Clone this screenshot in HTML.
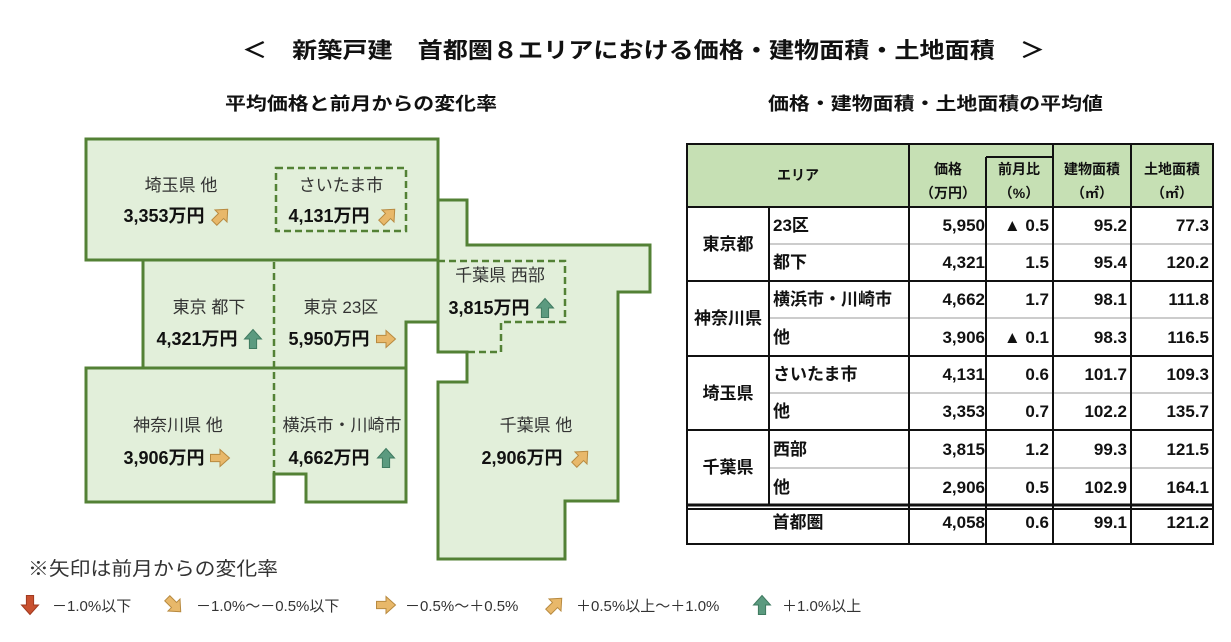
<!DOCTYPE html>
<html><head><meta charset="utf-8"><style>
html,body{margin:0;padding:0;background:#fff;}
svg{display:block;font-family:"Liberation Sans","Noto Sans CJK JP",sans-serif;}
</style></head><body>
<svg width="1231" height="642" viewBox="0 0 1231 642" xmlns="http://www.w3.org/2000/svg">
<defs>
<path id="ar" d="M0,-9.5 L8.5,0 L3.6,0 L3.6,9.5 L-3.6,9.5 L-3.6,0 L-8.5,0 Z"/>
</defs>
<!-- titles -->
<text x="242" y="58" textLength="803" lengthAdjust="spacingAndGlyphs" font-size="22" font-weight="bold" fill="#111">＜　新築戸建　首都圏８エリアにおける価格・建物面積・土地面積　＞</text>
<text x="225" y="110" textLength="272" lengthAdjust="spacingAndGlyphs" font-size="18" font-weight="bold" fill="#111">平均価格と前月からの変化率</text>
<text x="768" y="110" textLength="335" lengthAdjust="spacingAndGlyphs" font-size="18" font-weight="bold" fill="#111">価格・建物面積・土地面積の平均値</text>

<!-- map -->
<g fill="#e2efda" stroke="#538135" stroke-width="3">
<rect x="86" y="139" width="352" height="121"/>
<polygon points="438,200 467,200 467,245 650,245 650,292 618,292 618,501 565,501 565,559 438,559 438,382 467,382 467,352 438,352 438,260"/>
<polygon points="143,260 438,260 438,322 406,322 406,368 143,368"/>
<polygon points="86,368 406,368 406,502 306,502 306,474 274,474 274,502 86,502"/>
</g>
<g fill="none" stroke="#538135" stroke-width="2.5" stroke-dasharray="7,4">
<rect x="276" y="168" width="130" height="63"/>
<polyline points="438,261 565,261 565,322 501,322 501,352 438,352"/>
<line x1="274" y1="262" x2="274" y2="474"/>
</g>
<g font-size="17" fill="#333" text-anchor="middle">
<text x="181" y="191">埼玉県 他</text>
<text x="341" y="191">さいたま市</text>
<text x="209" y="313">東京 都下</text>
<text x="341" y="313">東京 23区</text>
<text x="500" y="281">千葉県 西部</text>
<text x="178" y="431">神奈川県 他</text>
<text x="342" y="431">横浜市・川崎市</text>
<text x="536" y="431">千葉県 他</text>
</g>
<g font-size="18" font-weight="bold" fill="#111" text-anchor="middle">
<text x="164" y="222">3,353万円</text>
<text x="329" y="222">4,131万円</text>
<text x="197" y="345">4,321万円</text>
<text x="329" y="345">5,950万円</text>
<text x="489" y="314">3,815万円</text>
<text x="164" y="464">3,906万円</text>
<text x="329" y="464">4,662万円</text>
<text x="522" y="464">2,906万円</text>
</g>
<g stroke-width="1">
<use href="#ar" transform="translate(221,216) rotate(45)" fill="#e8b86a" stroke="#b88a40"/>
<use href="#ar" transform="translate(388,216) rotate(45)" fill="#e8b86a" stroke="#b88a40"/>
<use href="#ar" transform="translate(253,339)" fill="#5b9a7f" stroke="#3f7a60"/>
<use href="#ar" transform="translate(386,339) rotate(90)" fill="#e8b86a" stroke="#b88a40"/>
<use href="#ar" transform="translate(545,308)" fill="#5b9a7f" stroke="#3f7a60"/>
<use href="#ar" transform="translate(220,458) rotate(90)" fill="#e8b86a" stroke="#b88a40"/>
<use href="#ar" transform="translate(386,458)" fill="#5b9a7f" stroke="#3f7a60"/>
<use href="#ar" transform="translate(581,458) rotate(45)" fill="#e8b86a" stroke="#b88a40"/>
</g>

<!-- legend -->
<text x="28" y="575" textLength="250" lengthAdjust="spacingAndGlyphs" font-size="19" fill="#333">※矢印は前月からの変化率</text>
<g stroke-width="1">
<use href="#ar" transform="translate(30,605) rotate(180)" fill="#c9502f" stroke="#a03a20"/>
<use href="#ar" transform="translate(174,605) rotate(135)" fill="#e8b86a" stroke="#b88a40"/>
<use href="#ar" transform="translate(386,605) rotate(90)" fill="#e8b86a" stroke="#b88a40"/>
<use href="#ar" transform="translate(555,605) rotate(45)" fill="#e8b86a" stroke="#b88a40"/>
<use href="#ar" transform="translate(762,605)" fill="#5b9a7f" stroke="#3f7a60"/>
</g>
<g font-size="15" fill="#333">
<text x="52" y="611">－1.0%以下</text>
<text x="196" y="611">－1.0%～－0.5%以下</text>
<text x="405" y="611">－0.5%～＋0.5%</text>
<text x="576" y="611">＋0.5%以上～＋1.0%</text>
<text x="782" y="611">＋1.0%以上</text>
</g>

<!-- table -->
<rect x="687" y="144" width="526" height="63" fill="#c6e0b4"/>
<g stroke="#bbb" stroke-width="1.5">
<line x1="769" y1="244" x2="1213" y2="244"/>
<line x1="769" y1="318" x2="1213" y2="318"/>
<line x1="769" y1="393" x2="1213" y2="393"/>
<line x1="769" y1="468" x2="1213" y2="468"/>
</g>
<g stroke="#111" stroke-width="2" fill="none">
<rect x="687" y="144" width="526" height="400"/>
<line x1="687" y1="207" x2="1213" y2="207"/>
<line x1="687" y1="281" x2="1213" y2="281"/>
<line x1="687" y1="356" x2="1213" y2="356"/>
<line x1="687" y1="430" x2="1213" y2="430"/>
<line x1="687" y1="505" x2="1213" y2="505" stroke-width="3"/>
<line x1="687" y1="509" x2="1213" y2="509"/>
<line x1="769" y1="207" x2="769" y2="505"/>
<line x1="909" y1="144" x2="909" y2="544"/>
<line x1="986" y1="157" x2="986" y2="544"/>
<line x1="986" y1="157" x2="1053" y2="157"/>
<line x1="1053" y1="144" x2="1053" y2="544"/>
<line x1="1131" y1="144" x2="1131" y2="544"/>
</g>
<g font-size="14" font-weight="bold" fill="#111" text-anchor="middle">
<text x="798" y="180">エリア</text>
<text x="948" y="174">価格</text>
<text x="948" y="198">（万円）</text>
<text x="1019" y="174">前月比</text>
<text x="1019" y="198">（%）</text>
<text x="1092" y="174">建物面積</text>
<text x="1092" y="198">（㎡）</text>
<text x="1172" y="174">土地面積</text>
<text x="1172" y="198">（㎡）</text>
</g>
<g font-size="17" font-weight="bold" fill="#111">
<g text-anchor="middle">
<text x="728" y="250">東京都</text>
<text x="728" y="324">神奈川県</text>
<text x="728" y="399">埼玉県</text>
<text x="728" y="473">千葉県</text>
<text x="798" y="528">首都圏</text>
</g>
<text x="773" y="231">23区</text>
<text x="773" y="268">都下</text>
<text x="773" y="305">横浜市・川崎市</text>
<text x="773" y="343">他</text>
<text x="773" y="380">さいたま市</text>
<text x="773" y="417">他</text>
<text x="773" y="455">西部</text>
<text x="773" y="493">他</text>
<g text-anchor="end">
<text x="985" y="231">5,950</text><text x="1049" y="231">▲ 0.5</text><text x="1127" y="231">95.2</text><text x="1209" y="231">77.3</text>
<text x="985" y="268">4,321</text><text x="1049" y="268">1.5</text><text x="1127" y="268">95.4</text><text x="1209" y="268">120.2</text>
<text x="985" y="305">4,662</text><text x="1049" y="305">1.7</text><text x="1127" y="305">98.1</text><text x="1209" y="305">111.8</text>
<text x="985" y="343">3,906</text><text x="1049" y="343">▲ 0.1</text><text x="1127" y="343">98.3</text><text x="1209" y="343">116.5</text>
<text x="985" y="380">4,131</text><text x="1049" y="380">0.6</text><text x="1127" y="380">101.7</text><text x="1209" y="380">109.3</text>
<text x="985" y="417">3,353</text><text x="1049" y="417">0.7</text><text x="1127" y="417">102.2</text><text x="1209" y="417">135.7</text>
<text x="985" y="455">3,815</text><text x="1049" y="455">1.2</text><text x="1127" y="455">99.3</text><text x="1209" y="455">121.5</text>
<text x="985" y="493">2,906</text><text x="1049" y="493">0.5</text><text x="1127" y="493">102.9</text><text x="1209" y="493">164.1</text>
<text x="985" y="528">4,058</text><text x="1049" y="528">0.6</text><text x="1127" y="528">99.1</text><text x="1209" y="528">121.2</text>
</g>
</g>
</svg>
</body></html>
